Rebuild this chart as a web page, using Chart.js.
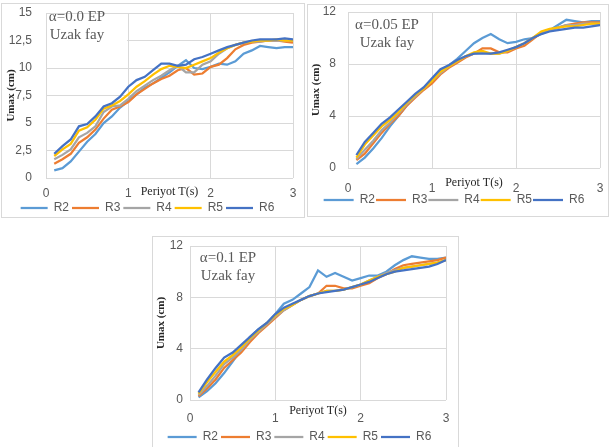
<!DOCTYPE html>
<html>
<head>
<meta charset="utf-8">
<script src="https://cdn.jsdelivr.net/npm/chart.js@4.4.1/dist/chart.umd.min.js"></script>
<style>
  html, body { margin: 0; padding: 0; background: #fff; }
  body { width: 613px; height: 447px; position: relative; overflow: hidden; }
  .panel { position: absolute; border: 1px solid #d9d9d9; background: #fff; overflow: hidden; }
  .panel canvas { display: block; }
</style>
</head>
<body>
<div class="panel" style="left:1px; top:3px; width:302px; height:213px;"><canvas id="c1" width="302" height="220"></canvas></div>
<div class="panel" style="left:307px; top:4px; width:300px; height:211px;"><canvas id="c2" width="300" height="211"></canvas></div>
<div class="panel" style="left:152px; top:236px; width:305px; height:212px;"><canvas id="c3" width="305" height="216"></canvas></div>
<script>
/************************************ data ************************************/
const periods = [0.1,0.2,0.3,0.4,0.5,0.6,0.7,0.8,0.9,1.0,1.1,1.2,1.3,1.4,1.5,1.6,1.7,1.8,1.9,2.0,2.1,2.2,2.3,2.4,2.5,2.6,2.7,2.8,2.9,3.0];
const seriesNames = ['R2','R3','R4','R5','R6'];
const seriesColors = ['#5b9bd5','#ed7d31','#a5a5a5','#ffc000','#4472c4'];

// alpha = 0.0
const a00_R2 = [0.7,0.9,1.5,2.4,3.3,4.0,5.0,5.6,6.4,7.0,7.6,8.2,8.6,9.1,9.6,10.2,10.7,10.0,9.9,10.1,10.4,10.3,10.6,11.3,11.6,12.0,11.9,11.8,11.9,11.9];
const a00_R3 = [1.3,1.7,2.2,3.2,3.7,4.4,5.4,6.2,6.5,6.9,7.6,8.1,8.6,9.0,9.3,9.8,10.0,9.4,9.5,10.1,10.3,10.9,11.7,12.1,12.3,12.4,12.5,12.5,12.4,12.3];
const a00_R4 = [1.7,2.1,2.6,3.7,4.1,4.7,6.0,6.5,6.6,7.2,7.9,8.4,8.9,9.3,9.8,10.2,9.6,9.6,10.3,10.6,11.3,11.8,12.1,12.3,12.4,12.4,12.5,12.5,12.5,12.5];
const a00_R5 = [2.0,2.6,3.1,4.3,4.6,5.3,6.3,6.6,7.0,7.6,8.3,8.8,9.4,9.9,10.2,10.1,10.0,10.3,10.6,10.9,11.4,11.8,12.1,12.3,12.4,12.5,12.5,12.6,12.5,12.5];
const a00_R6 = [2.2,2.9,3.5,4.7,4.9,5.6,6.5,6.8,7.4,8.3,8.9,9.2,9.8,10.4,10.4,10.2,10.3,10.8,11.0,11.3,11.6,11.9,12.1,12.3,12.5,12.6,12.6,12.6,12.7,12.6];

// alpha = 0.05
const a05_R2 = [0.3,0.8,1.5,2.3,3.2,4.0,4.8,5.5,6.1,6.8,7.5,7.9,8.4,9.0,9.6,10.0,10.3,9.9,9.6,9.7,9.9,10.0,10.3,10.6,11.0,11.4,11.3,11.2,11.3,11.3];
const a05_R3 = [0.6,1.1,1.9,2.7,3.4,4.0,4.8,5.4,6.0,6.5,7.2,7.7,8.1,8.5,8.8,9.2,9.2,8.9,8.9,9.2,9.4,9.9,10.4,10.6,10.8,11.0,11.1,11.2,11.2,11.2];
const a05_R4 = [0.7,1.4,2.1,2.9,3.5,4.2,4.9,5.5,6.1,6.7,7.3,7.8,8.2,8.6,8.8,8.9,8.8,8.8,9.0,9.3,9.6,10.0,10.4,10.6,10.8,11.0,11.0,11.1,11.1,11.1];
const a05_R5 = [0.8,1.8,2.5,3.2,3.7,4.3,5.0,5.6,6.1,6.7,7.4,7.8,8.2,8.6,8.9,9.0,8.8,8.8,9.0,9.3,9.6,10.0,10.5,10.7,10.8,10.9,10.9,11.0,11.1,11.1];
const a05_R6 = [1.0,2.0,2.7,3.4,3.9,4.5,5.1,5.7,6.2,6.9,7.6,7.9,8.3,8.6,8.8,8.8,8.8,8.9,9.1,9.3,9.6,10.0,10.3,10.5,10.6,10.7,10.8,10.8,10.9,11.0];

// alpha = 0.1
const a10_R2 = [0.2,0.7,1.3,2.1,3.0,3.9,4.9,5.5,6.0,6.7,7.5,7.8,8.3,8.8,10.1,9.6,9.9,9.6,9.3,9.5,9.7,9.7,10.0,10.5,10.9,11.2,11.1,11.0,11.0,11.1];
const a10_R3 = [0.3,0.9,1.6,2.5,3.1,3.7,4.5,5.2,5.8,6.4,7.0,7.4,7.8,8.1,8.3,8.9,8.9,8.7,8.7,8.9,9.1,9.5,9.8,10.2,10.5,10.6,10.7,10.8,10.9,11.1];
const a10_R4 = [0.4,1.1,1.9,2.8,3.3,3.9,4.7,5.3,5.9,6.5,7.0,7.4,7.8,8.1,8.3,8.5,8.5,8.6,8.8,9.0,9.3,9.6,9.9,10.1,10.3,10.4,10.5,10.6,10.7,10.9];
const a10_R5 = [0.5,1.4,2.2,3.0,3.5,4.1,4.8,5.4,6.0,6.6,7.1,7.4,7.8,8.1,8.3,8.5,8.5,8.6,8.8,9.0,9.3,9.6,9.8,10.0,10.3,10.4,10.5,10.6,10.7,10.9];
const a10_R6 = [0.6,1.6,2.5,3.3,3.7,4.3,4.9,5.5,6.0,6.7,7.2,7.5,7.8,8.1,8.3,8.4,8.5,8.6,8.8,9.0,9.2,9.5,9.8,10.0,10.1,10.2,10.3,10.4,10.6,10.9];

const xTicks = [0, 1, 2, 3];
const yTicks1 = [0, 2.5, 5, 7.5, 10, 12.5, 15];
const yTicks2 = [0, 4, 8, 12];
const notes1 = ['\u03b1=0.0 EP', 'Uzak fay'];
const notes2 = ['\u03b1=0.05 EP', 'Uzak fay'];
const notes3 = ['\u03b1=0.1 EP', 'Uzak fay'];

/************************************ note plugin ******************************/
const notePlugin = {
    id: 'note',
    afterDraw(chart, args, opts) {
        if (!opts.lines) return;
        const ctx = chart.ctx;
        ctx.save();
        ctx.fillStyle = '#ffffff';
        ctx.fillRect(opts.box[0], opts.box[1], opts.box[2], opts.box[3]);
        ctx.fillStyle = '#595959';
        ctx.font = '15px "Liberation Serif", "Times New Roman", serif';
        ctx.textAlign = 'center';
        ctx.textBaseline = 'middle';
        opts.lines.forEach((t, i) => ctx.fillText(t, opts.x, opts.y + i * 18));
        ctx.restore();
    }
};

// the scales add their label overhang to the chart padding, drop it
const noPad = s => { s.paddingTop = 0; s.paddingBottom = 0; s.paddingLeft = 0; s.paddingRight = 0; };

/************************************ build one panel **************************/
function drawPanel(canvasId, values, yTicks, yMax, notes, geo) {
    const datasets = values.map((v, i) => ({
        label: seriesNames[i],
        data: periods.map((p, k) => ({x: p, y: v[k]})),
        borderColor: seriesColors[i],
        backgroundColor: seriesColors[i],
        borderWidth: 2.25,
        pointRadius: 0,
        tension: 0,
        order: values.length - i
    }));
    return new Chart(document.getElementById(canvasId), {
        type: 'line',
        data: {datasets: datasets},
        plugins: [notePlugin],
        options: {
            responsive: false,
            animation: false,
            devicePixelRatio: 1,
            layout: {autoPadding: false, padding: {left: 0, top: geo.top, right: geo.right, bottom: 0}},
            scales: {
                x: {
                    type: 'linear', min: 0, max: 3,
                    afterBuildTicks: s => { s.ticks = xTicks.map(v => ({value: v})); },
                    afterFit: s => { s.height = geo.xH; noPad(s); },
                    grid: {color: '#d9d9d9', drawTicks: false},
                    border: {display: false},
                    ticks: {padding: geo.xPad, color: '#595959', font: {family: '"Liberation Sans", Arial, sans-serif', size: 12}},
                    title: {display: true, text: 'Periyot T(s)', color: '#262626', padding: {top: 0, bottom: geo.titlePB},
                            font: {family: '"Liberation Serif", "Times New Roman", serif', size: 12}}
                },
                y: {
                    min: 0, max: yMax,
                    afterBuildTicks: s => { s.ticks = yTicks.map(v => ({value: v})); },
                    afterFit: s => { s.width = geo.yW; noPad(s); },
                    grid: {color: '#d9d9d9', drawTicks: false},
                    border: {display: false},
                    ticks: {padding: geo.yPad, color: '#595959', font: {family: '"Liberation Sans", Arial, sans-serif', size: 12},
                            callback: v => String(v).replace('.', ',')},
                    title: {display: true, text: 'Umax (cm)', color: '#262626', padding: {top: geo.yTitlePad, bottom: 0},
                            font: {family: '"Liberation Serif", "Times New Roman", serif', size: 11, weight: 'bold'}}
                }
            },
            plugins: {
                legend: {
                    position: 'bottom',
                    labels: {
                        usePointStyle: true, pointStyle: 'line', pointStyleWidth: geo.boxW,
                        padding: geo.legendP, color: '#595959',
                        font: {family: '"Liberation Sans", Arial, sans-serif', size: 12},
                        sort: (a, b) => a.datasetIndex - b.datasetIndex
                    }
                },
                tooltip: {enabled: false},
                note: {lines: notes, x: geo.noteX, y: geo.noteY, box: geo.noteBox}
            }
        }
    });
}

drawPanel('c1', [a00_R2, a00_R3, a00_R4, a00_R5, a00_R6], yTicks1, 15, notes1,
    {top: 9, right: 11, xH: 21, xPad: 8, titlePB: 0, yW: 44, yPad: 14, yTitlePad: 3,
     legendP: 3, boxW: 27, noteX: 75, noteY: 13, noteBox: [45, 11, 80, 35]});
drawPanel('c2', [a05_R2, a05_R3, a05_R4, a05_R5, a05_R6], yTicks2, 12, notes2,
    {top: 7, right: 8, xH: 25, xPad: 13, titlePB: 3, yW: 40, yPad: 12, yTitlePad: 2,
     legendP: 1, boxW: 30, noteX: 79, noteY: 20, noteBox: [41, 8, 80, 40]});
drawPanel('c3', [a10_R2, a10_R3, a10_R4, a10_R5, a10_R6], yTicks2, 12, notes3,
    {top: 9, right: 12, xH: 28, xPad: 11, titlePB: 10, yW: 37, yPad: 7, yTitlePad: 2,
     legendP: 3, boxW: 29, noteX: 75, noteY: 21, noteBox: [38, 10, 80, 40]});
</script>
</body>
</html>
